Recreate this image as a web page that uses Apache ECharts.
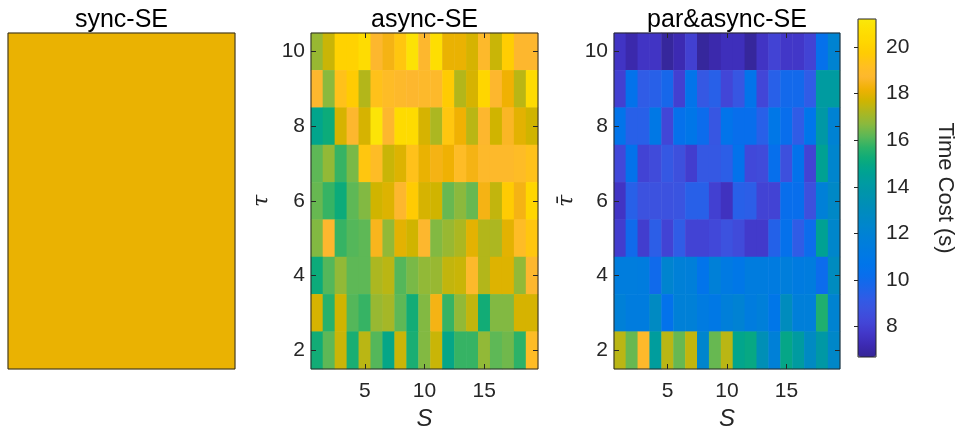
<!DOCTYPE html>
<html><head><meta charset="utf-8">
<script src="https://cdn.jsdelivr.net/npm/echarts@6/dist/echarts.min.js"></script>
<style>html,body{margin:0;padding:0;background:#fff}#c{width:956px;height:426px}</style>
</head><body><div id="c"></div>
<script>
// ---- data ----
const sCats = [1,2,3,4,5,6,7,8,9,10,11,12,13,14,15,16,17,18,19];
const tauCats = [2,3,4,5,6,7,8,9,10];
const xTickLabels = [5,10,15];
const yTickLabels = [2,4,6,8,10];
const cbTicks = [8,10,12,14,16,18,20];
const cbMin = 6.7, cbMax = 21.2;
const syncSE = 18.1;
// rows listed from tau = 10 (top) down to tau = 2 (bottom), columns S = 1..19
const asyncSE = [
  [16.9,17.6,20.0,20.0,20.6,18.7,18.4,19.5,20.9,18.7,20.7,18.1,18.1,17.8,18.8,17.6,19.8,18.7,18.7],
  [18.7,16.7,19.3,19.7,17.3,19.3,19.0,18.8,18.7,18.8,18.8,19.7,17.3,17.8,20.2,18.7,18.2,17.4,20.5],
  [14.8,15.2,17.8,18.7,17.8,21.0,18.7,20.5,20.5,17.8,17.2,19.5,18.2,17.4,18.7,17.7,18.6,18.0,17.7],
  [16.2,16.8,15.8,16.5,19.5,19.0,17.6,17.9,19.3,18.1,18.4,18.2,19.0,18.4,18.8,18.8,18.8,19.0,19.3],
  [16.3,15.8,15.2,16.2,16.6,17.7,17.9,18.7,19.7,17.8,17.7,16.3,16.7,16.3,18.4,17.5,19.7,18.4,20.2],
  [16.6,18.7,15.8,16.1,16.2,18.5,16.8,18.0,17.7,18.7,16.6,16.9,17.2,18.0,17.3,17.2,18.0,19.0,19.5],
  [15.2,16.1,16.8,16.2,16.2,17.2,17.4,16.1,16.5,16.8,16.9,17.5,17.6,18.8,17.3,17.9,17.9,16.8,18.7],
  [17.8,15.6,17.7,16.1,15.8,16.9,17.1,16.2,15.3,16.6,18.4,15.8,16.8,17.5,15.3,16.6,16.6,17.8,17.8],
  [15.3,16.2,17.6,15.4,17.4,16.1,14.9,17.6,15.4,16.6,17.6,14.9,15.8,15.8,16.8,16.2,16.4,15.7,19.0]
];
const parAsyncSE = [
  [7.6,7.1,7.6,7.6,6.8,7.2,8.0,6.8,7.1,7.4,7.4,6.8,7.6,8.1,7.7,7.7,8.1,10.4,12.1],
  [8.0,10.5,9.2,9.4,9.8,8.0,10.6,9.0,9.4,8.2,8.9,10.6,8.2,9.4,9.9,9.9,9.2,14.2,14.2],
  [10.6,9.4,9.4,11.0,8.2,10.4,10.8,10.1,8.9,10.6,10.2,10.2,9.4,10.9,10.2,9.2,10.7,14.0,12.0],
  [8.3,10.5,8.1,8.4,9.0,8.6,7.9,9.0,9.0,9.3,10.5,8.3,8.4,10.3,8.6,10.5,8.1,14.6,12.3],
  [7.6,9.4,8.7,8.7,8.7,8.8,9.4,9.4,8.0,7.5,9.4,9.3,8.1,8.1,10.2,10.2,8.6,11.8,12.6],
  [7.9,10.0,7.9,9.3,8.1,9.2,8.1,8.1,8.3,8.7,8.4,7.8,7.8,9.5,10.4,9.2,10.1,14.6,12.4],
  [11.5,11.5,11.4,10.0,12.2,11.8,11.7,10.6,11.8,11.2,10.9,11.4,11.4,11.3,11.6,11.3,11.4,10.1,12.9],
  [11.8,11.4,11.4,12.8,10.5,11.8,11.8,11.3,11.0,11.7,12.0,11.4,11.7,10.8,13.0,11.7,11.7,15.5,12.1],
  [17.4,16.3,18.8,14.3,17.4,16.3,17.5,12.3,16.3,17.4,14.8,15.0,13.3,11.8,14.9,14.2,12.8,14.0,12.5]
];
// parula-like colormap, evenly spaced from cbMin to cbMax
const parula = ['#352696','#3C2AB2','#4237C8','#4246D7','#3C52DF','#305CE6','#1B65EA','#086EEC',
  '#0075EA','#007AE2','#007FD9','#0084CF','#0089C4','#008EB8','#0094AC','#009BA0','#00A390',
  '#0CAB7A','#2CB268','#5EB856','#8BB93D','#ACB721','#D0B400','#F0B103','#FDB72E','#FFBF20',
  '#FFCB03','#FFD600','#FEDE02','#FAE80A'];

function toCells(rows){
  const out = [];
  rows.forEach((row, r) => row.forEach((v, c) => out.push([c, rows.length - 1 - r, v])));
  return out;
}

const FONT = 'Liberation Sans', INK = '#262626';
const chart = echarts.init(document.getElementById('c'), null, {renderer: 'canvas'});

const gridBox = {show: true, borderColor: INK, borderWidth: 1, backgroundColor: 'transparent', z: 10,
  containLabel: false, outerBoundsMode: 'none'};
const grids = [
  Object.assign({left: 8, top: 33, width: 227, height: 336}, gridBox),
  Object.assign({left: 311, top: 33, width: 227, height: 336}, gridBox),
  Object.assign({left: 614, top: 33, width: 226, height: 336}, gridBox),
  Object.assign({left: 858, top: 19, width: 18, height: 338}, gridBox)
];

const lab = {fontFamily: FONT, fontSize: 21, color: INK};
const xTickFn = (i, v) => xTickLabels.includes(Number(v));
const yTickFn = (i, v) => yTickLabels.includes(Number(v));

function xAx(grid, pos, withLabel) {
  return {
    gridIndex: grid, type: 'category', data: sCats, position: pos, z: 11,
    axisLine: {show: false},
    axisTick: {show: true, inside: true, length: 5, alignWithLabel: true, interval: xTickFn, lineStyle: {color: INK}},
    axisLabel: Object.assign({show: withLabel, interval: xTickFn, margin: 12}, lab),
    splitLine: {show: false},
    name: withLabel ? 'S' : '', nameLocation: 'middle', nameGap: 36,
    nameTextStyle: {fontFamily: FONT, fontSize: 24, fontStyle: 'italic', color: INK}
  };
}
function yAx(grid, pos, withLabel, name, gap) {
  return {
    gridIndex: grid, type: 'category', data: tauCats, position: pos, z: 11,
    axisLine: {show: false},
    axisTick: {show: true, inside: true, length: 5, alignWithLabel: true, interval: yTickFn, lineStyle: {color: INK}},
    axisLabel: Object.assign({show: withLabel, interval: yTickFn, margin: 6}, lab),
    splitLine: {show: false},
    name: withLabel ? name : '', nameLocation: 'middle', nameGap: gap || 40, nameRotate: 90,
    nameTextStyle: {fontFamily: 'DejaVu Serif', fontSize: 22, fontStyle: 'italic', color: INK}
  };
}

const option = {
  backgroundColor: '#fff',
  animation: false,
  title: [
    {text: 'sync-SE', left: 121.5, top: 8, textAlign: 'center'},
    {text: 'async-SE', left: 424.5, top: 8, textAlign: 'center'},
    {text: 'par&async-SE', left: 727, top: 8, textAlign: 'center'}
  ].map(t => Object.assign(t, {padding: 0, textStyle: {fontFamily: FONT, fontSize: 25, fontWeight: 'normal', color: '#000'}})),
  grid: grids,
  xAxis: [
    {gridIndex: 0, type: 'category', data: [''], show: false},
    xAx(1, 'bottom', true), xAx(1, 'top', false),
    xAx(2, 'bottom', true), xAx(2, 'top', false),
    {gridIndex: 3, type: 'value', show: false, min: 0, max: 1}
  ],
  yAxis: [
    {gridIndex: 0, type: 'category', data: [''], show: false},
    yAx(1, 'left', true, 'τ', 38), yAx(1, 'right', false, ''),
    yAx(2, 'left', true, 'τ\u0304', 36), yAx(2, 'right', false, ''),
    {
      gridIndex: 3, type: 'value', min: cbMin, max: cbMax, position: 'right', z: 11,
      axisLine: {show: false}, splitLine: {show: false},
      axisTick: {show: true, inside: true, length: 4, customValues: cbTicks, lineStyle: {color: INK}},
      axisLabel: Object.assign({customValues: cbTicks, margin: 10}, lab),
      name: 'Time Cost (s)', nameLocation: 'middle', nameRotate: -90, nameGap: 58,
      nameTextStyle: {fontFamily: FONT, fontSize: 22, color: INK}
    }
  ],
  visualMap: {
    type: 'continuous', min: cbMin, max: cbMax, inRange: {color: parula},
    left: 858, top: 19, itemWidth: 18, itemHeight: 338, padding: 0,
    calculable: false, hoverLink: false, seriesIndex: [0, 1, 2], text: null
  },
  series: [
    {type: 'heatmap', xAxisIndex: 0, yAxisIndex: 0, data: [[0, 0, syncSE]]},
    {type: 'heatmap', xAxisIndex: 1, yAxisIndex: 1, data: toCells(asyncSE)},
    {type: 'heatmap', xAxisIndex: 3, yAxisIndex: 3, data: toCells(parAsyncSE)}
  ]
};
chart.setOption(option);
</script></body></html>
